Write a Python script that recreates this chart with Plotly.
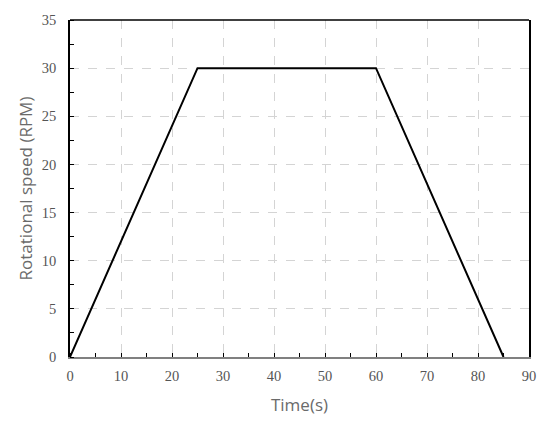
import plotly.graph_objects as go

# Perfil de velocidad
time_s = [0, 25, 60, 85]
speed_rpm = [0, 30, 30, 0]

x_ticks = [0, 10, 20, 30, 40, 50, 60, 70, 80, 90]
y_ticks = [0, 5, 10, 15, 20, 25, 30, 35]

fig = go.Figure()

fig.add_trace(go.Scatter(
    x=time_s,
    y=speed_rpm,
    mode='lines',
    line=dict(color='black', width=2),
    showlegend=False
))

tick_font = dict(family='Liberation Serif', size=14.5, color='#555555')
title_font = dict(family='Open Sans', size=17, color='#6a6a6a')

fig.update_xaxes(
    range=[0, 90],
    tickvals=x_ticks,
    tickfont=tick_font,
    title=dict(text='Time(s)', font=title_font, standoff=16),
    showgrid=True, gridcolor='#d4d4d4', griddash='dash', gridwidth=1,
    showline=True, linecolor='#808080', linewidth=2,
    ticks='outside', ticklen=5, tickcolor='rgba(0,0,0,0)', zeroline=False,
    minor=dict(dtick=5, ticks='inside', ticklen=4, tickcolor='black', showgrid=False),
    automargin=False,
)

fig.update_yaxes(
    range=[0, 35],
    tickvals=y_ticks,
    tickfont=tick_font,
    title=dict(text='Rotational speed (RPM)', font=title_font, standoff=5),
    showgrid=True, gridcolor='#d4d4d4', griddash='dash', gridwidth=1,
    showline=True, linecolor='black', linewidth=1.5, mirror=True,
    ticks='outside', ticklen=9, tickcolor='rgba(0,0,0,0)', zeroline=False,
    minor=dict(dtick=2.5, ticks='inside', ticklen=4, tickcolor='black', showgrid=False),
    automargin=False,
)

# borde superior negro
fig.add_shape(type='line', xref='paper', yref='paper', x0=0, x1=1, y0=1, y1=1,
              line=dict(color='black', width=1.5))

# la página tiene 8px de margen en el body
fig.update_layout(
    width=555, height=422,
    margin=dict(l=62, r=34, t=12, b=73),
    plot_bgcolor='white', paper_bgcolor='white',
)

fig.write_html("out.html")
